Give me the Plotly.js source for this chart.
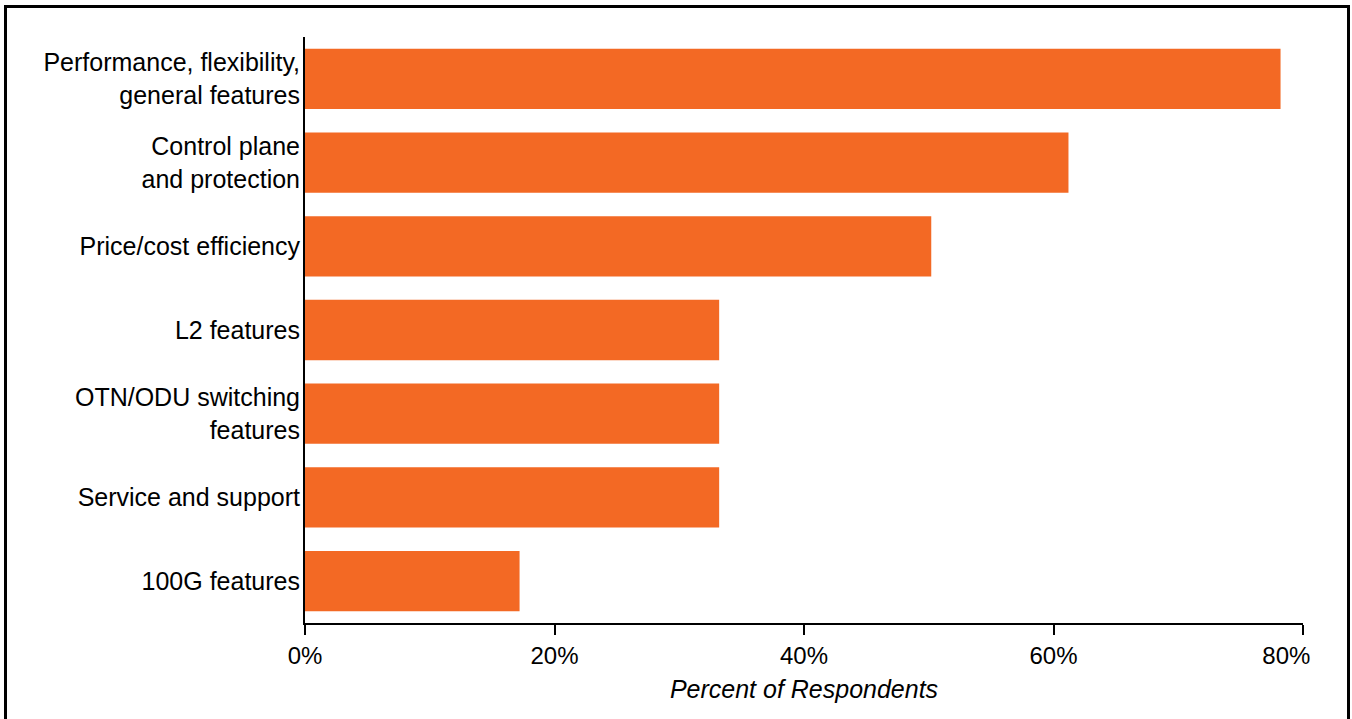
<!DOCTYPE html>
<html>
<head>
<meta charset="utf-8">
<script src="https://cdn.plot.ly/plotly-3.0.1.min.js"></script>
<style>
html,body{margin:0;padding:0;background:#fff;}
#chart{width:1352px;height:719px;}
#frame{position:absolute;left:4px;top:5px;width:1340px;height:730px;border:3px solid #000;pointer-events:none;box-sizing:content-box;}
</style>
</head>
<body>
<div id="chart"></div>
<div id="frame"></div>
<script>
var categories = [
  "Performance, flexibility,<br>general features",
  "Control plane<br>and protection",
  "Price/cost efficiency",
  "L2 features",
  "OTN/ODU switching<br>features",
  "Service and support",
  "100G features"
];
var values = [78.2, 61.2, 50.2, 33.2, 33.2, 33.2, 17.2];
var xTickVals = [0, 20, 40, 60, 80];
var xTickText = ["0%", "20%", "40%", "60%", "80%&nbsp;&nbsp;&nbsp;&nbsp;&nbsp;"];

var font = "Liberation Sans, Arial, Helvetica, sans-serif";

Plotly.newPlot("chart", [{
  type: "bar",
  orientation: "h",
  y: categories,
  x: values,
  marker: {color: "#F36924", line: {width: 0}},
  hoverinfo: "none"
}], {
  width: 1352,
  height: 719,
  margin: {l: 305, r: 49, t: 37, b: 96, pad: 0},
  paper_bgcolor: "#fff",
  plot_bgcolor: "#fff",
  bargap: 0.28,
  showlegend: false,
  font: {family: font, color: "#000", size: 25},
  xaxis: {
    range: [0, 80],
    tickvals: xTickVals,
    ticktext: xTickText,
    ticks: "outside",
    ticklen: 10,
    tickwidth: 2,
    tickcolor: "#000",
    showline: true,
    linecolor: "#000",
    linewidth: 2,
    showgrid: false,
    zeroline: false,
    tickfont: {family: font, size: 24, color: "#000"},
    title: {text: "<i>Percent of Respondents</i>", font: {family: font, size: 25, color: "#000"}, standoff: 13}
  },
  yaxis: {
    type: "category",
    range: [6.5, -0.5],
    ticks: "",
    showline: true,
    linecolor: "#000",
    linewidth: 2,
    showgrid: false,
    zeroline: false,
    tickfont: {family: font, size: 25, color: "#000"},
    ticklabelstandoff: -2
  }
}, {staticPlot: true, displayModeBar: false});
</script>
</body>
</html>
